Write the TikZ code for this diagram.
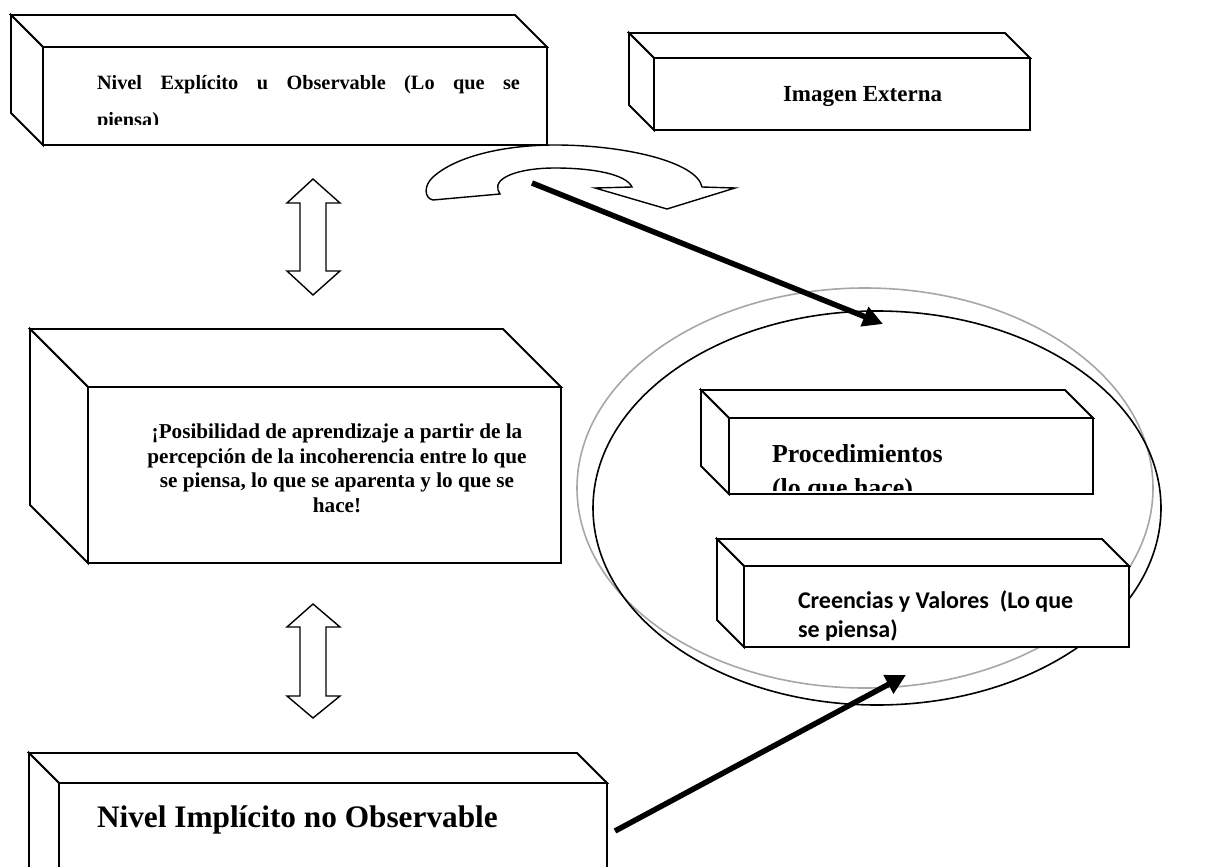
\documentclass[tikz,border=0pt]{standalone}
\usepackage{fontspec}
\setmainfont{Liberation Serif}
\newfontfamily\carlito{Carlito}
\usetikzlibrary{arrows.meta,shapes.geometric}

\tikzset{
  face/.style={draw, line width=1.8pt, fill=white, inner sep=0pt, outer sep=0pt, line join=miter},
  side/.style={draw, line width=1.8pt, fill=white, line join=miter},
  bigarrow/.style={line width=5.5pt, -{Triangle[length=20pt,width=20pt]}},
  hollow/.style={draw, line width=1.4pt, fill=white, line join=miter},
  lbl/.style={anchor=base west, inner sep=0pt, outer sep=0pt},
  clbl/.style={anchor=base, inner sep=0pt, outer sep=0pt},
  ring/.style={draw, ellipse, line width=1.6pt, inner sep=0pt},
}

% name, x1, y1, x2, y2, depth
\newcommand\threedbox[6]{%
  \path[side] (#2,#3) -- (#2-#6,#3-#6) -- (#4-#6,#3-#6) -- (#4,#3) -- cycle;
  \path[side] (#2-#6,#3-#6) -- (#2-#6,#5-#6) -- (#2,#5) -- (#2,#3) -- cycle;
  \node[face, anchor=north west, minimum width={(#4-#2)*1pt}, minimum height={(#5-#3)*1pt}] (#1) at (#2,#3) {};
}

\begin{document}
\begin{tikzpicture}[x=1pt,y=-1pt]
\clip (0,0) rectangle (1219,867);
\fill[white] (0,0) rectangle (1219,867);

% ellipses
\node[ring, draw=gray!85!black!60, minimum width=576pt, minimum height=400pt] (ellG) at (865,488) {};
\node[ring, draw=black, minimum width=568pt, minimum height=394pt] (ellB) at (877,508) {};

% boxes
\threedbox{b1}{43}{47}{547}{145}{32}
\threedbox{b2}{654}{58}{1030}{130}{25}
\threedbox{bm}{88}{387}{561}{563}{58}
\threedbox{bb}{59}{783}{607}{900}{30}
\threedbox{bp}{729}{418}{1093}{494}{28}
\threedbox{bc}{744}{566}{1129}{647}{27}

% texts
\node[lbl, font=\bfseries\fontsize{20.3}{24}\selectfont] (t1a) at (97,90)
  {\makebox[423pt][s]{Nivel Explícito u Observable (Lo que se}};
\begin{scope}
  \clip (45,100) rectangle (545,124.5);
  \node[lbl, font=\bfseries\fontsize{20.3}{24}\selectfont] (t1b) at (97,126) {piensa)};
\end{scope}

\node[lbl, font=\bfseries\fontsize{23}{26}\selectfont] (t2) at (783,102) {Imagen Externa};

\node[clbl, font=\bfseries\fontsize{21.2}{24}\selectfont] (m1) at (337,438) {¡Posibilidad de aprendizaje a partir de la};
\node[clbl, font=\bfseries\fontsize{21.2}{24}\selectfont] (m2) at (337,463) {percepción de la incoherencia entre lo que};
\node[clbl, font=\bfseries\fontsize{21.2}{24}\selectfont] (m3) at (337,487) {se piensa, lo que se aparenta y lo que se};
\node[clbl, font=\bfseries\fontsize{21.2}{24}\selectfont] (m4) at (337,512) {hace!};

\node[lbl, font=\bfseries\fontsize{31.3}{36}\selectfont] (tb) at (97,827) {Nivel Implícito no Observable};

\node[lbl, font=\bfseries\fontsize{25.9}{30}\selectfont] (tp1) at (772,462) {Procedimientos};
\begin{scope}
  \clip (731,470) rectangle (1091,490);
  \node[lbl, font=\bfseries\fontsize{25.9}{30}\selectfont] (tp2) at (772,496) {(lo que hace)};
\end{scope}

\node[lbl, font=\carlito\bfseries\fontsize{24}{28}\selectfont] (tc1) at (798,608) {Creencias y Valores\ \ (Lo que};
\node[lbl, font=\carlito\bfseries\fontsize{24}{28}\selectfont] (tc2) at (798,637) {se piensa)};

% double arrows
\path[hollow] (313,179) -- (340,203) -- (326,203) -- (326,271) -- (340,271) -- (313,295)
  -- (287,271) -- (300,271) -- (300,203) -- (287,203) -- cycle;
\path[hollow] (313,604) -- (340,627) -- (326,627) -- (326,696) -- (340,696) -- (313,718)
  -- (287,696) -- (300,696) -- (300,627) -- (287,627) -- cycle;

% curved block arrow
\path[hollow] (433,200) .. controls (424,198) and (424,186) .. (432,178)
  .. controls (455,156) and (505,145) .. (555,145)
  .. controls (625,145) and (697,162) .. (702,187)
  -- (735,188) -- (667,209) -- (595,188) -- (632,187)
  .. controls (626,174) and (592,168) .. (555,168)
  .. controls (520,168) and (494,177) .. (498,190)
  -- (500,194) -- cycle;

% straight arrows
\coordinate (a1s) at (532,183);
\coordinate (a1e) at (883,324);
\draw[bigarrow] (a1s) -- (a1e);
\coordinate (a2s) at (615,831);
\coordinate (a2e) at (906,675);
\draw[bigarrow] (a2s) -- (a2e);
\end{tikzpicture}
\end{document}
